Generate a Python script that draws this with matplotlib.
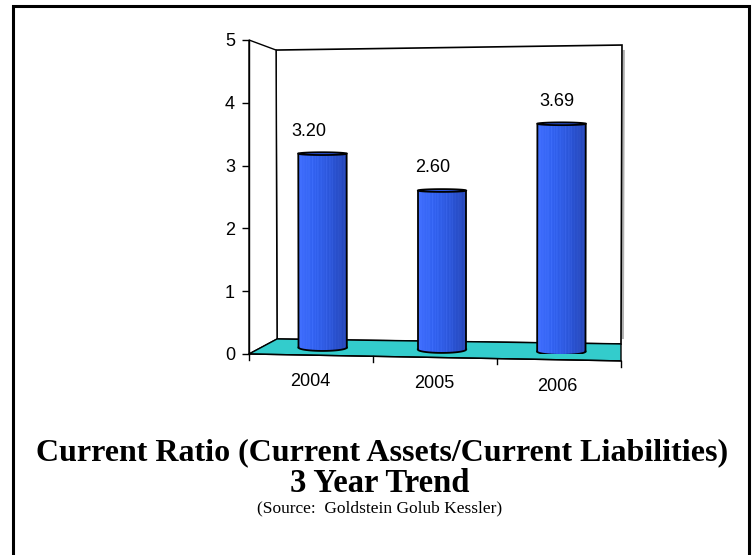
import matplotlib
matplotlib.use('Agg')
import matplotlib.pyplot as plt
import numpy as np
from matplotlib.patches import Polygon, Rectangle, PathPatch
from matplotlib.path import Path
from matplotlib.colors import LinearSegmentedColormap

years = ['2004', '2005', '2006']
ratios = [3.20, 2.60, 3.69]
value_labels = ['3.20', '2.60', '3.69']
yticks = [0, 1, 2, 3, 4, 5]

# corners of the pseudo-3d box in data units (front plane / back plane)
FRONT = {'bl': (0.0, 0.0), 'br': (3.0, -0.11), 'tl': (0.0, 5.0), 'tr': (3.0, 5.0)}
BACK = {'bl': (0.226, 0.239), 'br': (3.0, 0.16), 'tl': (0.218, 4.84), 'tr': (3.008, 4.92)}


def proj(x, v, d):
    u = x / 3.0
    w = v / 5.0

    def plane(c):
        b = (1 - u) * np.array(c['bl']) + u * np.array(c['br'])
        t = (1 - u) * np.array(c['tl']) + u * np.array(c['tr'])
        return (1 - w) * b + w * t
    return (1 - d) * plane(FRONT) + d * plane(BACK)


fig = plt.figure(figsize=(7.55, 5.55), dpi=100)
ax = fig.add_axes([249 / 755, 1 - 354 / 555, 372 / 755, 314 / 555])
ax.set_xlim(0, 3)
ax.set_ylim(0, 5)
for s in ['top', 'right', 'bottom']:
    ax.spines[s].set_visible(False)
ax.spines['left'].set_linewidth(1.0)
ax.spines['left'].set_zorder(6)
ax.set_xticks([])
ax.set_yticks(yticks)
ax.tick_params(axis='y', direction='out', length=5, width=1, labelsize=13, pad=5)
for lab in ax.get_yticklabels():
    lab.set_fontfamily('Liberation Sans')

# walls and floor
left_wall = [proj(0, 0, 0), proj(0, 5, 0), proj(0, 5, 1), proj(0, 0, 1)]
back_wall = [proj(0, 0, 1), proj(3, 0, 1), proj(3, 5, 1), proj(0, 5, 1)]
floor = [proj(0, 0, 0), proj(3, 0, 0), proj(3, 0, 1), proj(0, 0, 1)]
# faint shadow along the right edge of the back wall
sh = [proj(3, 0.1, 1), proj(3, 4.9, 1)]
ax.plot([sh[0][0] + 0.015, sh[1][0] + 0.015], [sh[0][1], sh[1][1]], color='#b0b0b0', lw=1.5,
        zorder=0.9, clip_on=False)
ax.add_patch(Polygon(back_wall, closed=True, facecolor='white', edgecolor='black', lw=1.2, zorder=1, clip_on=False))
ax.add_patch(Polygon(left_wall, closed=True, facecolor='white', edgecolor='black', lw=1.0, zorder=1, clip_on=False))
ax.add_patch(Polygon(floor, closed=True, facecolor='#33cccc', edgecolor='black', lw=1.0, zorder=2, clip_on=False))

# front category axis line with ticks
p0, p1 = proj(0, 0, 0), proj(3, 0, 0)
ax.plot([p0[0], p1[0]], [p0[1], p1[1]], color='black', lw=1.0, zorder=5, clip_on=False)
for k in range(4):
    p = proj(k, 0, 0)
    ax.plot([p[0], p[0]], [p[1], p[1] - 0.09], color='black', lw=1.0, zorder=5, clip_on=False)
for i, yr in enumerate(years):
    p = proj(i + 0.5, 0, 0)
    ax.text(p[0] - 0.01, p[1] - 0.42, yr, ha='center', va='center', fontsize=13,
            fontfamily='Liberation Sans', clip_on=False)

# cylinders
cmap = LinearSegmentedColormap.from_list('cyl', ['#3f6dff', '#3060ee', '#2b55d8', '#2444b4'])
ncol = 120
shade = cmap(np.linspace(0, 1, ncol))[:, :3]
stripe = np.zeros(ncol)
stripe[::7] = 0.07
stripe[3::11] = 0.05
shade = np.clip(shade + stripe[:, None], 0, 1)
tex = shade[None, :, :]

rx = 0.195
ry_bot = 0.055
ry_top = 0.022
for i, val in enumerate(ratios):
    cx, by = proj(i + 0.5, 0, 0.5)
    tx, ty = proj(i + 0.5, val, 0.5)
    t1 = np.linspace(np.pi, 2 * np.pi, 40)
    t2 = np.linspace(0, np.pi, 40)
    bot = np.column_stack([cx + rx * np.cos(t1), by + ry_bot * np.sin(t1)])
    top = np.column_stack([tx + rx * np.cos(t2), ty + ry_top * np.sin(t2)])
    verts = np.vstack([bot, top, bot[:1]])
    body = PathPatch(Path(verts, closed=True), facecolor='none', edgecolor='none', zorder=3)
    ax.add_patch(body)
    im = ax.imshow(tex, extent=[cx - rx, cx + rx, by - ry_bot, ty + ry_top], aspect='auto',
                   zorder=3, interpolation='bilinear')
    im.set_clip_path(body)
    # outline: sides and bottom arc
    ax.plot(bot[:, 0], bot[:, 1], color='black', lw=1.3, zorder=4)
    ax.plot([cx - rx, tx - rx], [by, ty], color='black', lw=1.3, zorder=4)
    ax.plot([cx + rx, tx + rx], [by, ty], color='black', lw=1.3, zorder=4)
    # top ellipse
    tt = np.linspace(0, 2 * np.pi, 80)
    ax.fill(tx + rx * np.cos(tt), ty + ry_top * np.sin(tt), facecolor='#2f5ae6',
            edgecolor='black', lw=1.3, zorder=4)
    ax.text(i + 0.48, ty + 0.36, value_labels[i], ha='center', va='center', fontsize=13,
            fontfamily='Liberation Sans', zorder=6)

ax.set_xlim(0, 3)
ax.set_ylim(0, 5)

# titles
fig.text(382 / 755, 1 - 453 / 555, 'Current Ratio (Current Assets/Current Liabilities)',
         ha='center', va='center', fontsize=23, fontweight='bold', fontfamily='Liberation Serif')
fig.text(380 / 755, 1 - 483 / 555, '3 Year Trend', ha='center', va='center', fontsize=23.5,
         fontweight='bold', fontfamily='Liberation Serif')
fig.text(380 / 755, 1 - 508 / 555, '(Source:  Goldstein Golub Kessler)', ha='center', va='center',
         fontsize=12.5, fontfamily='Liberation Serif')

# outer border
fig.patches.append(Rectangle((13 / 755, -3 / 555), 736 / 755, 552 / 555, transform=fig.transFigure,
                             fill=False, edgecolor='black', lw=2.2, clip_on=False))

fig.savefig('out.png', dpi=100)
